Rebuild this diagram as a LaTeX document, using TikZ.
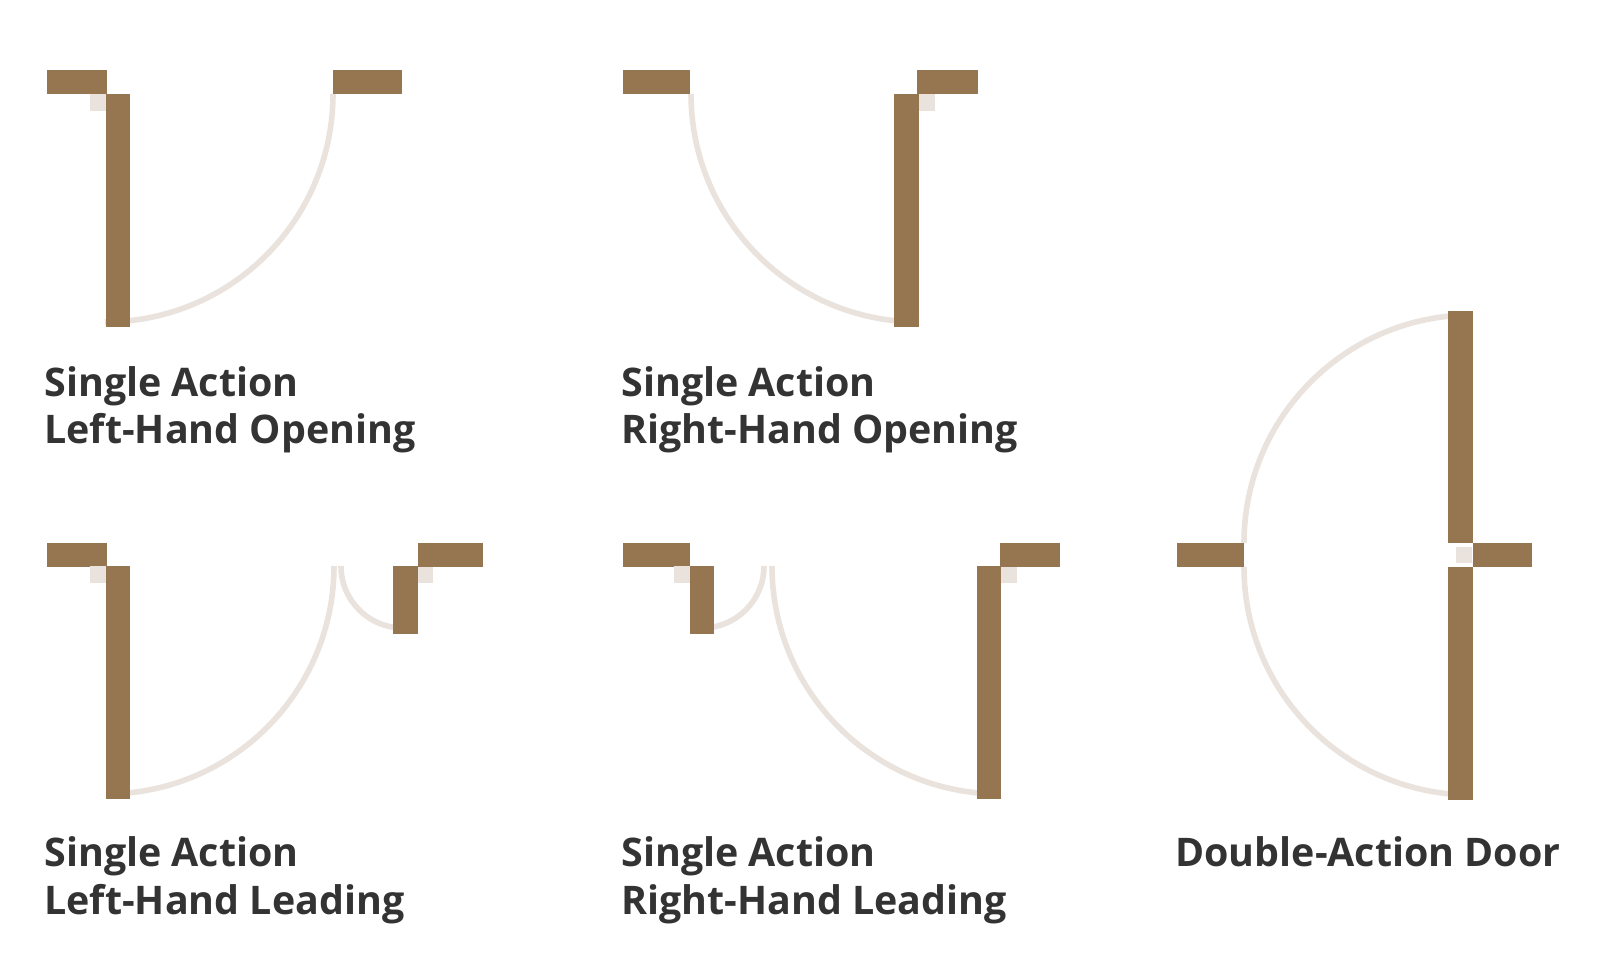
\documentclass[tikz,border=0pt]{standalone}
\usepackage{fontspec}
\setsansfont{Open Sans}
\usepackage{tikz}
\definecolor{woodbrown}{HTML}{957650}
\definecolor{swingtan}{HTML}{EAE2DC}
\definecolor{labelgray}{HTML}{333333}

\begin{document}
\begin{tikzpicture}[x=0.5pt,y=-0.5pt,
                    wall/.style={fill=woodbrown},
                    leaf/.style={fill=woodbrown},
                    pivot/.style={fill=swingtan},
                    swing/.style={draw=swingtan,line width=2.8pt},
                    caption/.style={anchor=base west,inner sep=0pt,align=left,
                      text=labelgray,font=\sffamily\bfseries\fontsize{19.7}{24}\selectfont}]
  \useasboundingbox (0,0) rectangle (1600,962);

  % swings first, so the leaves cover their ends
  \draw[swing] (333,94) arc[start angle=0,end angle=90,radius=228];
  \draw[swing] (691,94) arc[start angle=180,end angle=90,radius=228];
  \draw[swing] (334,566) arc[start angle=0,end angle=90,radius=228];
  \draw[swing] (341,566) arc[start angle=180,end angle=90,radius=62];
  \draw[swing] (772,566) arc[start angle=180,end angle=90,radius=228];
  \draw[swing] (764,566) arc[start angle=0,end angle=90,radius=62];
  \draw[swing] (1472,315) arc[start angle=270,end angle=180,radius=228];
  \draw[swing] (1244,567) arc[start angle=180,end angle=90,radius=228];

  % left-hand opening
  \fill[wall]  (47,70) rectangle (107,94);
  \fill[leaf]  (106,94) rectangle (130,327);
  \fill[pivot] (90,94) rectangle (106,111);
  \fill[wall]  (333,70) rectangle (402,94);

  % right-hand opening
  \fill[wall]  (623,70) rectangle (690,94);
  \fill[leaf]  (894,94) rectangle (919,327);
  \fill[pivot] (919,94) rectangle (935,111);
  \fill[wall]  (917,70) rectangle (978,94);

  % left-hand leading
  \fill[wall]  (47,543) rectangle (107,567);
  \fill[leaf]  (106,566) rectangle (130,799);
  \fill[pivot] (90,566) rectangle (106,583);
  \fill[leaf]  (393,566) rectangle (418,634);
  \fill[pivot] (418,566) rectangle (433,583);
  \fill[wall]  (418,543) rectangle (483,567);

  % right-hand leading
  \fill[wall]  (623,543) rectangle (690,567);
  \fill[leaf]  (690,566) rectangle (714,634);
  \fill[pivot] (674,566) rectangle (690,583);
  \fill[leaf]  (977,566) rectangle (1001,799);
  \fill[pivot] (1001,566) rectangle (1017,583);
  \fill[wall]  (1000,543) rectangle (1060,567);

  % double action
  \fill[wall]  (1177,543) rectangle (1244,567);
  \fill[leaf]  (1448,311) rectangle (1473,543);
  \fill[leaf]  (1448,567) rectangle (1473,800);
  \fill[pivot] (1456,547) rectangle (1472,563);
  \fill[wall]  (1473,543) rectangle (1532,567);

  % base anchor sits on the last line
  \node[caption] (lho) at (44,444) {Single Action\\Left-Hand Opening};
  \node[caption] (rho) at (621,444) {Single Action\\Right-Hand Opening};
  \node[caption] (lhl) at (44,914) {Single Action\\Left-Hand Leading};
  \node[caption] (rhl) at (621,914) {Single Action\\Right-Hand Leading};
  \node[caption] (dad) at (1175,866) {Double-Action Door};
\end{tikzpicture}
\end{document}
